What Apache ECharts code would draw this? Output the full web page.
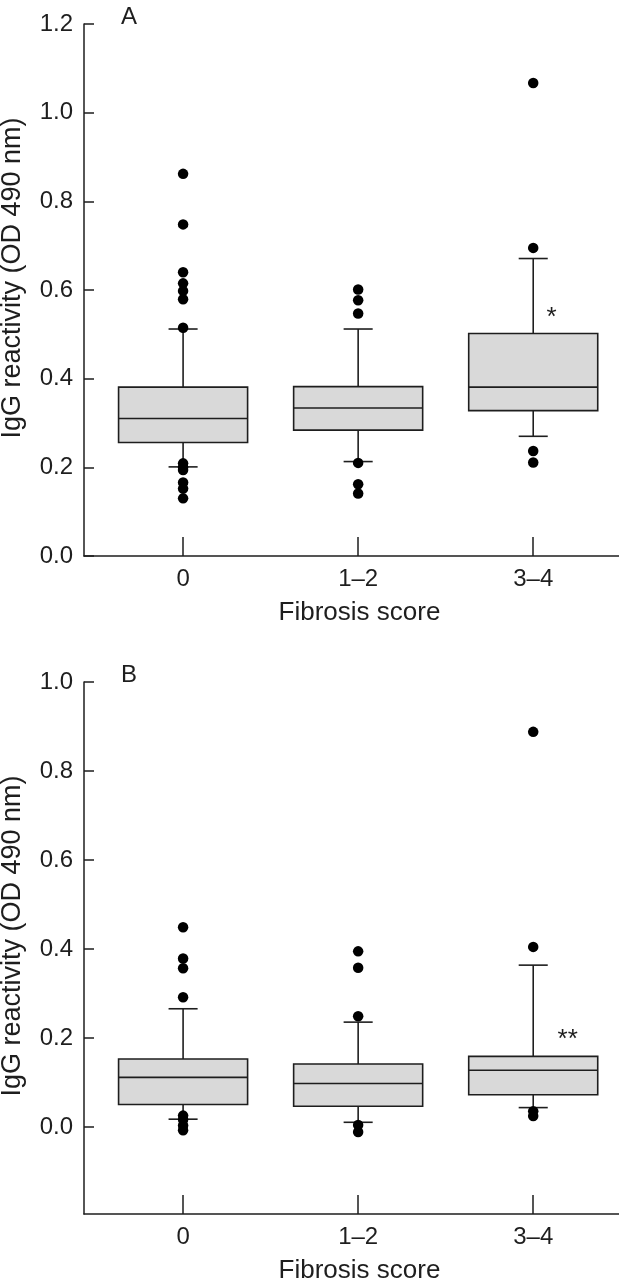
<!DOCTYPE html>
<html><head><meta charset="utf-8">
<script src="https://cdn.jsdelivr.net/npm/echarts@6/dist/echarts.min.js"></script>
<style>html,body{margin:0;padding:0;background:#fff}#c{width:619px;height:1280px}</style>
</head><body><div id="c"></div>
<script>
// ---- data ----
const categories = ['0', '1–2', '3–4'];
const yTicksA = [0, 0.2, 0.4, 0.6, 0.8, 1.0, 1.2];
const yTicksB = [0, 0.2, 0.4, 0.6, 0.8, 1.0];
// [lower whisker, Q1, median, Q3, upper whisker]
const boxA = [
  [0.201, 0.256, 0.310, 0.381, 0.512],
  [0.213, 0.284, 0.334, 0.382, 0.512],
  [0.270, 0.328, 0.381, 0.502, 0.671]
];
const outA0 = [0.862, 0.748, 0.640, 0.615, 0.598, 0.579, 0.515, 0.209, 0.200, 0.194, 0.166, 0.152, 0.130];
const outA1 = [0.601, 0.577, 0.547, 0.210, 0.162, 0.141];
const outA2 = [1.067, 0.695, 0.237, 0.211];
const boxB = [
  [0.018, 0.051, 0.112, 0.153, 0.266],
  [0.011, 0.047, 0.098, 0.142, 0.236],
  [0.044, 0.073, 0.128, 0.159, 0.364]
];
const outB0 = [0.449, 0.379, 0.357, 0.292, 0.026, 0.017, 0.004, -0.007];
const outB1 = [0.395, 0.358, 0.249, 0.005, -0.011];
const outB2 = [0.888, 0.405, 0.036, 0.025];
const sigTextA = ['*'];
const sigPosA = [[2.105, 0.551]];
const sigTextB = ['**'];
const sigPosB = [[2.197, 0.210]];

// ---- style ----
const FONT = 'Liberation Sans';
const INK = '#1e1e1e';
const BOX_W = 0.737, CAP_W = 0.166;

function renderBox(params, api) {
  const x = api.value(0);
  const pLo = api.coord([x, api.value(1)]);
  const pQ1 = api.coord([x, api.value(2)]);
  const pMed = api.coord([x, api.value(3)]);
  const pQ3 = api.coord([x, api.value(4)]);
  const pHi = api.coord([x, api.value(5)]);
  const bw = api.size([BOX_W, 0])[0];
  const cw = api.size([CAP_W, 0])[0];
  const cx = pMed[0];
  const ls = { stroke: INK, lineWidth: 1.6 };
  return { type: 'group', children: [
    { type: 'line', shape: { x1: cx, y1: pQ3[1], x2: cx, y2: pHi[1] }, style: ls },
    { type: 'line', shape: { x1: cx - cw / 2, y1: pHi[1], x2: cx + cw / 2, y2: pHi[1] }, style: ls },
    { type: 'line', shape: { x1: cx, y1: pQ1[1], x2: cx, y2: pLo[1] }, style: ls },
    { type: 'line', shape: { x1: cx - cw / 2, y1: pLo[1], x2: cx + cw / 2, y2: pLo[1] }, style: ls },
    { type: 'rect', shape: { x: cx - bw / 2, y: pQ3[1], width: bw, height: pQ1[1] - pQ3[1] },
      style: { fill: '#d9d9d9', stroke: INK, lineWidth: 1.6 } },
    { type: 'line', shape: { x1: cx - bw / 2, y1: pMed[1], x2: cx + bw / 2, y2: pMed[1] }, style: ls }
  ]};
}

function boxSeries(boxes, idx) {
  return { type: 'custom', xAxisIndex: idx, yAxisIndex: idx, z: 2,
    data: boxes.map((b, i) => [i].concat(b)),
    encode: { x: 0, y: [1, 2, 3, 4, 5] },
    renderItem: renderBox, silent: true };
}
function outlierSeries(lists, idx) {
  const data = [];
  lists.forEach((l, i) => l.forEach(v => data.push([i, v])));
  return { type: 'scatter', xAxisIndex: idx, yAxisIndex: idx, z: 3, symbolSize: 10.5,
    itemStyle: { color: '#000', opacity: 1 }, data: data, silent: true };
}
function sigSeries(pos, texts, idx) {
  return { type: 'custom', xAxisIndex: idx, yAxisIndex: idx, z: 4, silent: true,
    data: pos, encode: { x: 0, y: 1 },
    renderItem: function (params, api) {
      const p = api.coord([api.value(0), api.value(1)]);
      return { type: 'text', x: p[0], y: p[1] + 6,
        style: { text: texts[params.dataIndex], fill: INK, font: '26px ' + FONT,
          textAlign: 'center', textVerticalAlign: 'middle' } };
    } };
}
function xAxis(idx) {
  return { type: 'value', gridIndex: idx, min: -0.566, max: 2.49,
    axisLine: { show: true, onZero: false, lineStyle: { color: INK, width: 1.5 } },
    axisTick: { show: true, inside: true, length: 19, customValues: [0, 1, 2], lineStyle: { color: INK, width: 1.5 } },
    axisLabel: { customValues: [0, 1, 2], formatter: v => categories[Math.round(v)], margin: 11,
      fontFamily: FONT, fontSize: 24, color: INK },
    splitLine: { show: false },
    name: 'Fibrosis score', nameLocation: 'middle', nameGap: 44,
    nameTextStyle: { fontFamily: FONT, fontSize: 26, color: INK, padding: [0, 0, 0, 16] } };
}
function yAxis(idx, min, max, ticks) {
  return { type: 'value', gridIndex: idx, min: min, max: max,
    axisLine: { show: true, onZero: false, lineStyle: { color: INK, width: 1.5 } },
    axisTick: { show: true, inside: true, length: 10, customValues: ticks, lineStyle: { color: INK, width: 1.5 } },
    axisLabel: { customValues: ticks, formatter: v => v.toFixed(1), margin: 11,
      fontFamily: FONT, fontSize: 24, color: INK },
    splitLine: { show: false },
    name: 'IgG reactivity (OD 490 nm)', nameLocation: 'middle', nameGap: 58,
    nameTextStyle: { fontFamily: FONT, fontSize: 27, color: INK, padding: [0, 0, 0, 24] } };
}

const chart = echarts.init(document.getElementById('c'), null, { renderer: 'canvas' });
chart.setOption({
  animation: false,
  backgroundColor: '#fff',
  title: [
    { text: 'A', left: 116, top: 0, textStyle: { fontFamily: FONT, fontSize: 24, fontWeight: 'normal', color: INK } },
    { text: 'B', left: 116, top: 658, textStyle: { fontFamily: FONT, fontSize: 24, fontWeight: 'normal', color: INK } }
  ],
  grid: [
    { left: 84, right: 0, top: 24, height: 532, containLabel: false, outerBoundsMode: 'none' },
    { left: 84, right: 0, top: 682, height: 532, containLabel: false, outerBoundsMode: 'none' }
  ],
  xAxis: [xAxis(0), xAxis(1)],
  yAxis: [yAxis(0, 0, 1.2, yTicksA), yAxis(1, -0.195, 1.0, yTicksB)],
  series: [
    boxSeries(boxA, 0), outlierSeries([outA0, outA1, outA2], 0), sigSeries(sigPosA, sigTextA, 0),
    boxSeries(boxB, 1), outlierSeries([outB0, outB1, outB2], 1), sigSeries(sigPosB, sigTextB, 1)
  ]
});
</script></body></html>
